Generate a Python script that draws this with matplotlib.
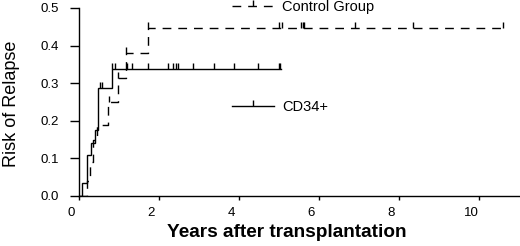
import numpy as np
import matplotlib
matplotlib.use("Agg")
import matplotlib.pyplot as plt
from matplotlib.lines import Line2D
from matplotlib.transforms import ScaledTranslation

plt.rcParams['font.family'] = ['Liberation Sans', 'DejaVu Sans']

# CD34+ group: step times (years) and cumulative risk of relapse
cd34_times = [0, 0.07, 0.21, 0.30, 0.40, 0.48, 0.82, 5.05]
cd34_risk = [0, 0.035, 0.11, 0.14, 0.175, 0.287, 0.338, 0.338]
cd34_censor = [0.52, 0.57, 0.82, 0.90, 1.19, 1.32, 1.73, 2.23, 2.35, 2.43,
               2.48, 2.85, 3.38, 3.88, 4.48, 5.00, 5.03]

# Control group
ctrl_times = [0, 0.19, 0.28, 0.36, 0.45, 0.72, 0.97, 1.18, 1.73, 10.65]
ctrl_risk = [0, 0.04, 0.09, 0.15, 0.19, 0.25, 0.314, 0.38, 0.446, 0.446]
ctrl_censor = [0.75, 0.98, 1.18, 1.73, 5.00, 5.07, 5.54, 5.59, 5.63, 6.90,
               8.36, 10.59]

xticks = [0, 2, 4, 6, 8, 10]
yticks = [0.0, 0.1, 0.2, 0.3, 0.4, 0.5]
ytick_labels = ["0.0", "0.1", "0.2", "0.3", "0.4", "0.5"]


def risk_at(times, risk, t):
    idx = np.searchsorted(times, t, side='right') - 1
    return np.asarray(risk)[idx]


fig = plt.figure(figsize=(5.2, 2.46), dpi=100)
ax = fig.add_axes([79 / 520, 1 - 196 / 246, 440 / 520, 188 / 246])

dash = (0, (6.3, 5.0))
lw = 1.0
ax.step(cd34_times, cd34_risk, where='post', color='black', lw=lw,
        solid_joinstyle='miter')
ax.step(ctrl_times, ctrl_risk, where='post', color='black', lw=lw,
        linestyle=dash)
ax.plot(cd34_censor, risk_at(cd34_times, cd34_risk, cd34_censor), ls='none',
        marker=2, ms=4.5, mew=1.0, color='black', clip_on=False)
ax.plot(ctrl_censor, risk_at(ctrl_times, ctrl_risk, ctrl_censor), ls='none',
        marker=2, ms=4.5, mew=1.0, color='black', clip_on=False)

ax.set_xlim(0, 11)
ax.set_ylim(0, 0.5)
ax.set_xticks(xticks)
ax.set_yticks(yticks)
ax.set_yticklabels(ytick_labels)
for s in ['top', 'right']:
    ax.spines[s].set_visible(False)
for s in ['left', 'bottom']:
    ax.spines[s].set_linewidth(1.0)
ax.tick_params(axis='y', direction='out', length=6.5, width=1.0,
               labelsize=9.5, pad=8, colors='black')
ax.tick_params(axis='x', direction='out', length=3, width=1.0,
               labelsize=9.5, pad=5, colors='black')
shift = ScaledTranslation(-7.5 / 100, 0, fig.dpi_scale_trans)
for lab in ax.get_xticklabels():
    lab.set_transform(lab.get_transform() + shift)

ax.set_xlabel("Years after transplantation", fontsize=13.7,
              fontweight='bold')
ax.xaxis.set_label_coords(0.473, -0.149)
ax.set_ylabel("Risk of Relapse", fontsize=13)
ax.yaxis.set_label_coords(-0.135, 0.49)

h_ctrl = Line2D([], [], color='black', lw=lw, linestyle=dash, marker=2,
                ms=4.5, mew=1.0)
h_cd34 = Line2D([], [], color='black', lw=lw, marker=2, ms=4.5, mew=1.0)
common = dict(frameon=False, loc='center left', borderpad=0,
              borderaxespad=0, handlelength=2.9, handletextpad=0.55,
              numpoints=1, prop={'size': 10.5})
leg1 = ax.legend([h_ctrl], ["Control Group"],
                 bbox_to_anchor=(0.348, 1.005), **common)
ax.add_artist(leg1)
leg2 = ax.legend([h_cd34], ["CD34+"], bbox_to_anchor=(0.348, 0.473), **common)
for leg in (leg1, leg2):
    leg.set_clip_on(False)

fig.savefig("out.png", dpi=100)
